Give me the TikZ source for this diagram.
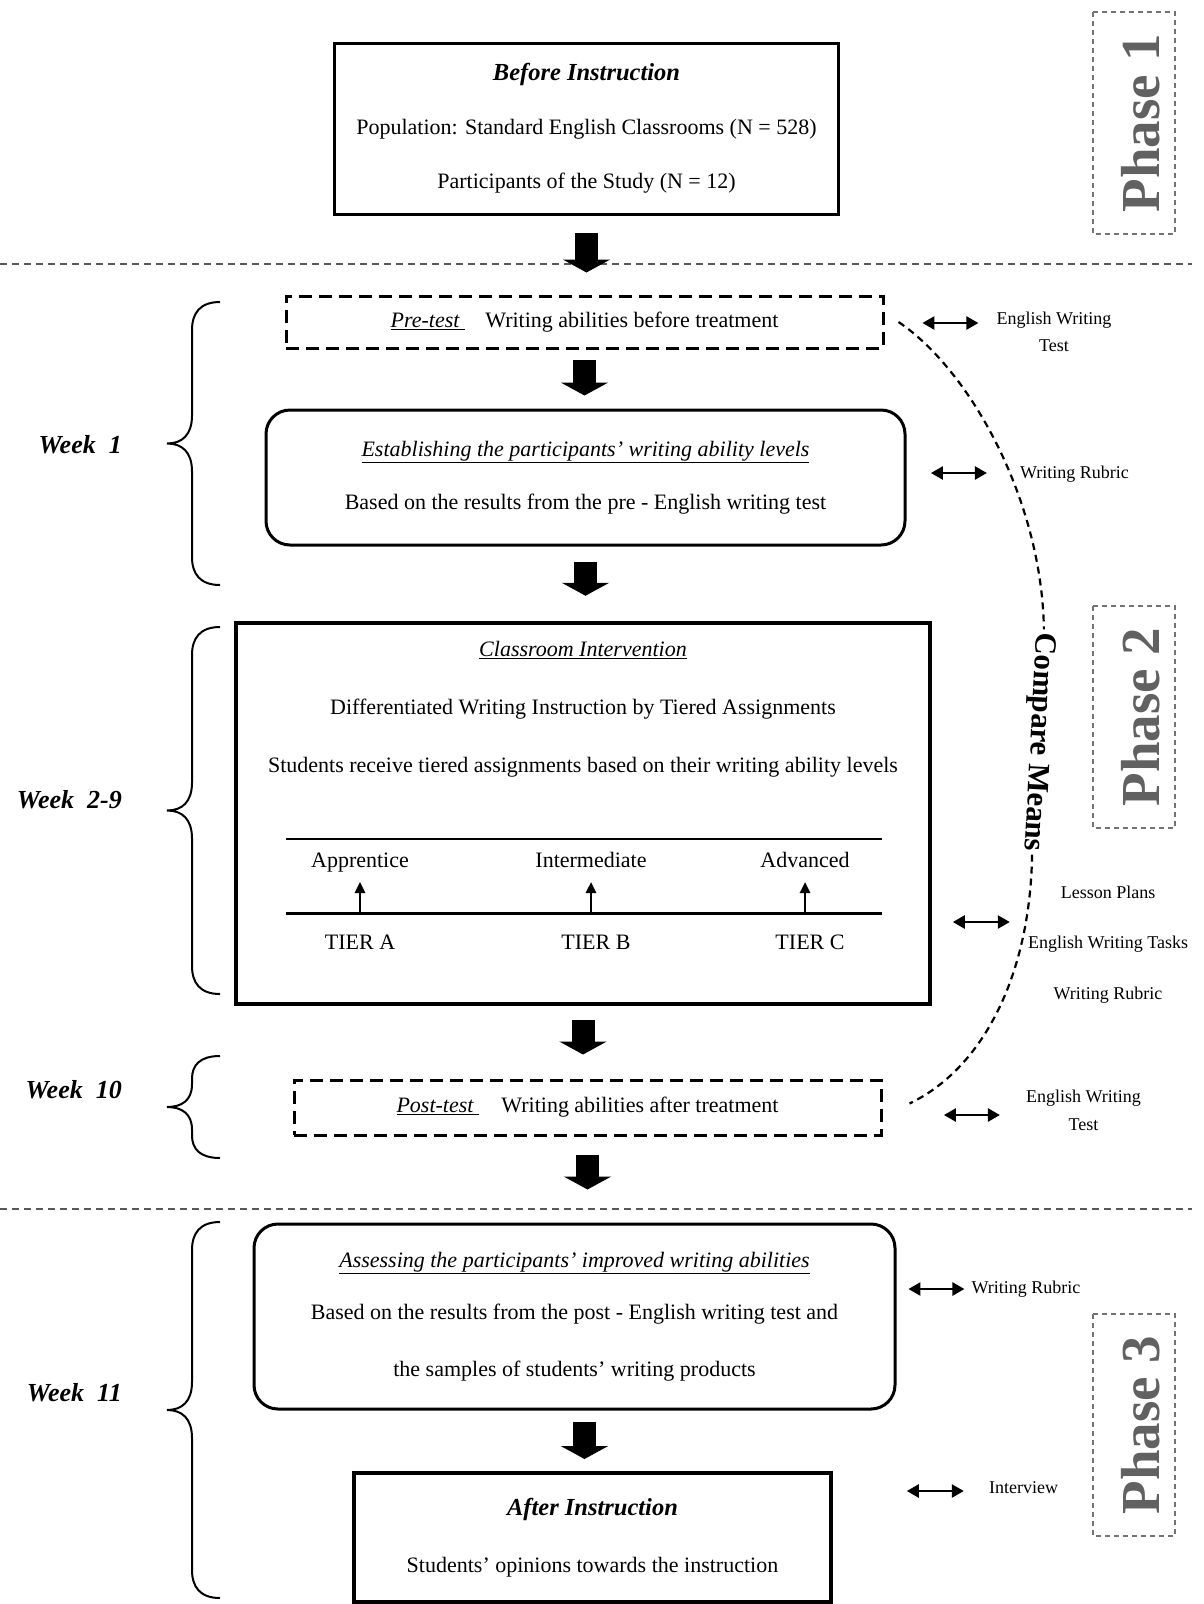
\documentclass[tikz,border=0pt]{standalone}
\usepackage{fontspec}
\setmainfont{Liberation Serif}
\usetikzlibrary{positioning,calc,arrows.meta}

\tikzstyle{flow chart}=[
    x=1pt,y=-1pt,
    every node/.style={
        align=center, inner sep=0pt,
        font=\fontsize{22}{26}\selectfont,
    }]
\tikzstyle{plainbox}=[draw, line width=3pt]
\tikzstyle{roundbox}=[draw, line width=3pt, rounded corners=24pt]
\tikzstyle{dashbox}=[draw, line width=3pt, dash pattern=on 13pt off 7pt]
\tikzstyle{phasebox}=[draw=black!55, line width=1.5pt, dash pattern=on 5pt off 4pt,
    rotate=90, minimum width=222pt, minimum height=82pt, text height=50pt, text depth=0pt,
    text=black!62, font=\fontsize{55}{60}\selectfont\bfseries]
\tikzstyle{separator}=[draw=black!65, line width=1.5pt, dash pattern=on 7pt off 5pt]
\tikzstyle{blockarrow}=[line width=23pt, -{Triangle[length=13pt,width=47pt]}]
\tikzstyle{sidearrow}=[line width=2.5pt,
    {Triangle[length=12pt,width=13pt]}-{Triangle[length=12pt,width=13pt]}]
\tikzstyle{tierarrow}=[line width=2.5pt, -{Triangle[length=11pt,width=10pt]}]
\tikzstyle{leveltext}=[text height=16pt, text depth=6pt, inner ysep=8pt]
\tikzstyle{tiertext}=[text height=15pt, text depth=0pt]
\tikzstyle{sidelabel}=[font=\fontsize{18}{21.6}\selectfont]
\tikzstyle{weeklabel}=[anchor=east, font=\fontsize{26}{30}\selectfont\bfseries\itshape]
\tikzstyle{weekbrace}=[line width=2pt]
\tikzstyle{meanscurve}=[line width=2.2pt, dash pattern=on 7pt off 5pt]

\newcommand{\heading}[1]{\underline{\textit{#1}}}
\newcommand{\stagetitle}[1]{{\fontsize{24.5}{26}\selectfont\textbf{\textit{#1}}}}
% curly brace pointing left: top, bottom
\newcommand{\weekbrace}[2]{%
    \pgfmathsetmacro{\bmid}{(#1+#2)/2}%
    \pgfmathsetmacro{\bc}{min(28,(#2-#1)/4.5)}%
    \draw[weekbrace] (220,#1) .. controls (200,#1) and (192,#1+0.4*\bc) .. (192,#1+\bc)
        -- (192,\bmid-\bc) .. controls (192,\bmid-0.3*\bc) and (182,\bmid) .. (167,\bmid)
        .. controls (182,\bmid) and (192,\bmid+0.3*\bc) .. (192,\bmid+\bc)
        -- (192,#2-\bc) .. controls (192,#2-0.4*\bc) and (200,#2) .. (220,#2);}

\begin{document}
\begin{tikzpicture}[flow chart]
    \useasboundingbox (0,0) rectangle (1203,1604);

    % phases
    \draw[separator] (0,264) -- (1192,264);
    \draw[separator] (0,1209) -- (1192,1209);
    \node[phasebox] (phase1) at (1134,123) {Phase 1};
    \node[phasebox] (phase2) at (1134,717) {Phase 2};
    \node[phasebox] (phase3) at (1134,1425) {Phase 3};

    % main boxes
    \node[plainbox, minimum width=504pt, minimum height=171pt] (before) at (586.5,128.5)
        {\stagetitle{Before Instruction}\\[28pt]
         Population: Standard English Classrooms (N = 528)\\[28pt]
         Participants of the Study (N = 12)};
    \node[dashbox, minimum width=597pt, minimum height=52pt] (pre) at (584.5,322)
        {\underline{\textit{Pre-test}\ }\hspace{20pt}Writing abilities before treatment};
    \node[roundbox, minimum width=639pt, minimum height=135pt] (estab) at (585.5,477.5)
        {\heading{Establishing the participants' writing ability levels}\\[27pt]
         Based on the results from the pre - English writing test};
    \node[plainbox, line width=4.5pt, minimum width=694pt, minimum height=381pt] (inter) at (583,813.5) {};
    \node (intertext) at (583,709)
        {\heading{Classroom Intervention}\\[32pt]
         Differentiated Writing Instruction by Tiered Assignments\\[32pt]
         Students receive tiered assignments based on their writing ability levels};
    \node[dashbox, minimum width=587pt, minimum height=55pt] (post) at (587.5,1107.5)
        {\underline{\textit{Post-test}\ }\hspace{22pt}Writing abilities after treatment};
    \node[roundbox, minimum width=641pt, minimum height=185pt] (assess) at (574.5,1316.5)
        {\heading{Assessing the participants' improved writing abilities}\\[26pt]
         Based on the results from the post - English writing test and\\[31pt]
         the samples of students' writing products};
    \node[plainbox, line width=4pt, minimum width=477pt, minimum height=129pt] (after) at (592.5,1537.5)
        {\stagetitle{After Instruction}\\[31pt]
         Students' opinions towards the instruction};

    % tiers
    \draw[line width=2pt] (286,839) -- (882,839);
    \draw[line width=3pt] (286,913) -- (882,913);
    \coordinate (ta) at (360,913);
    \coordinate (tb) at (591,913);
    \coordinate (tc) at (805,913);
    \node[leveltext, above=31pt of ta] (apprentice) {Apprentice};
    \node[leveltext, above=31pt of tb] (intermediate) {Intermediate};
    \node[leveltext, above=31pt of tc] (advanced) {Advanced};
    \node[tiertext, below=21pt of ta] (tierA) {TIER A};
    \node[tiertext, below=21pt of tb, xshift=5pt] (tierB) {TIER B};
    \node[tiertext, below=21pt of tc, xshift=5pt] (tierC) {TIER C};
    \draw[tierarrow] (ta) -- (apprentice);
    \draw[tierarrow] (tb) -- (intermediate);
    \draw[tierarrow] (tc) -- (advanced);

    % flow
    \draw[blockarrow, shorten <=17pt, shorten >=22pt] (before.south) -- (before.south |- pre.north);
    \draw[blockarrow, shorten <=10pt, shorten >=13pt] (pre.south) -- (pre.south |- estab.north);
    \draw[blockarrow, shorten <=15pt, shorten >=25pt] (estab.south) -- (estab.south |- inter.north);
    \draw[blockarrow, shorten <=14pt, shorten >=24pt] (inter.south) -- (inter.south |- post.north);
    \draw[blockarrow, shorten <=18pt, shorten >=33pt] (post.south) -- (post.south |- assess.north);
    \draw[blockarrow, shorten <=11pt, shorten >=12pt] ([xshift=10pt]assess.south) -- ([xshift=10pt]assess.south |- after.north);

    % instruments
    \node[sidelabel] (test1) at (1054,332) {English Writing\\[5pt]Test};
    \node[sidelabel] (rubric1) at (1074.5,474) {Writing Rubric};
    \node[sidelabel] (tools) at (1108,944.5) {Lesson Plans\\[29pt]English Writing Tasks\\[29pt]Writing Rubric};
    \node[sidelabel] (test2) at (1083.5,1110.5) {English Writing\\[6pt]Test};
    \node[sidelabel] (rubric2) at (1026,1289) {Writing Rubric};
    \node[sidelabel] (interview) at (1023.5,1488) {Interview};
    \draw[sidearrow] ([xshift=-18pt,yshift=9pt]test1.west) -- ++(-56,0);
    \draw[sidearrow] ([xshift=-33pt,yshift=1pt]rubric1.west) -- ++(-56,0);
    \draw[sidearrow] ([xshift=-18pt,yshift=22.5pt]tools.west) -- ++(-57,0);
    \draw[sidearrow] ([xshift=-26pt,yshift=-4.5pt]test2.west) -- ++(-56,0);
    \draw[sidearrow] ([xshift=-7pt]rubric2.west) -- ++(-56,0);
    \draw[sidearrow] ([xshift=-25pt,yshift=-3pt]interview.west) -- ++(-57,0);

    % compare means
    \node[rotate=-93, inner sep=3pt, font=\fontsize{31}{34}\selectfont\bfseries] (means) at (1038,742) {Compare Means};
    \draw[meanscurve] ([xshift=14pt]pre.east) .. controls (970,370) and (1042,500) .. (means.west);
    \draw[meanscurve] (means.east) .. controls (1030,980) and (980,1070) .. ([xshift=27pt,yshift=4pt]post.east);

    % weeks
    \node[weeklabel] (week1) at (122,445) {Week~~1};
    \node[weeklabel] (week2) at (122,800) {Week~~2-9};
    \node[weeklabel] (week10) at (122,1090) {Week~~10};
    \node[weeklabel] (week11) at (122,1393) {Week~~11};
    \weekbrace{302}{585}
    \weekbrace{627}{994}
    \weekbrace{1056}{1158}
    \weekbrace{1222}{1598}
\end{tikzpicture}
\end{document}
